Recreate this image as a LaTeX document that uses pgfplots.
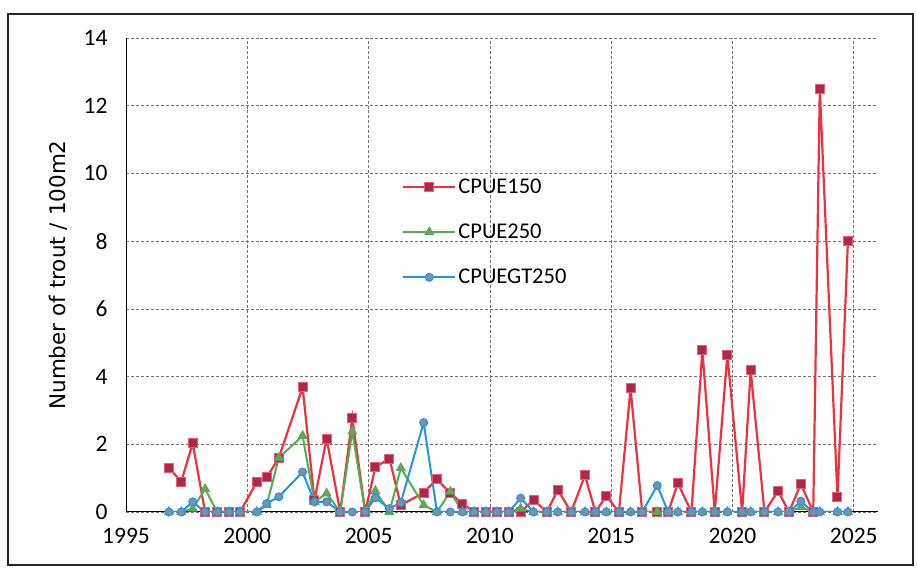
\documentclass[border=0pt]{standalone}
\usepackage{pgfplots}
\pgfplotsset{compat=1.18}
\usepackage{pgfplotstable}
\usepackage{fontspec}
\setmainfont{Carlito}
\newfontfamily\dejavu{DejaVu Sans}
\definecolor{redline}{RGB}{240,48,60}
\definecolor{redfill}{RGB}{176,40,72}
\definecolor{rededge}{RGB}{236,90,120}
\definecolor{greenline}{RGB}{80,176,80}
\definecolor{greenfill}{RGB}{110,160,100}
\definecolor{blueline}{RGB}{30,150,232}
\definecolor{bluefill}{RGB}{120,145,165}
\pgfplotstableread{
x r g b
1996.77 1.30 0 0
1997.28 0.90 0 0
1997.75 2.03 0.10 0.30
1998.26 0 0.68 0
1998.76 0 0 0
1999.24 0 0 0
1999.70 0 0 0
2000.39 0.88 0 0
2000.80 1.02 0.20 0.25
2001.30 1.60 1.60 0.45
2002.28 3.68 2.25 1.18
2002.77 0.35 0.30 0.30
2003.27 2.17 0.55 0.30
2003.83 0 0 0
2004.33 2.78 2.38 0
2004.86 0 0 0
2005.28 1.32 0.62 0.42
2005.86 1.58 0 0.10
2006.33 0.20 1.30 0.28
2007.27 0.57 0.20 2.64
2007.82 0.97 0 0
2008.37 0.55 0.60 0
2008.87 0.25 0 0
2009.35 0 0 0
2009.85 0 0 0
2010.30 0 0 0
2010.78 0 0 0
2011.27 0 0.10 0.41
2011.80 0.36 0 0
2012.35 0 0 0
2012.80 0.65 0 0
2013.35 0 0 0
2013.92 1.08 0 0
2014.35 0 0 0
2014.80 0.47 0 0
2015.32 0 0 0
2015.80 3.65 0 0
2016.28 0 0 0
2016.90 0 0 0.78
2017.35 0 0 0
2017.75 0.85 0 0
2018.31 0 0 0
2018.76 4.78 0 0
2019.27 0 0 0
2019.79 4.65 0 0
2020.40 0 0 0
2020.75 4.18 0 0
2021.32 0 0 0
2021.88 0.62 0 0
2022.33 0 0 0
2022.82 0.83 0.15 0.32
2023.33 0 0 0
2023.60 12.50 0 0
2024.33 0.43 0 0
2024.76 8.00 0 0
}\data
\begin{document}
\begin{tikzpicture}
\useasboundingbox (0bp,0bp) rectangle (917bp,569bp);
\draw[black!85, line width=1.2bp] (8bp,4bp) rectangle (913bp,555bp);
\begin{axis}[
  at={(126bp,57bp)}, anchor=south west,
  scale only axis, width=752bp, height=474bp,
  xmin=1995, xmax=2026, ymin=0, ymax=14,
  xtick={1995,2000,...,2025}, ytick={0,2,...,14},
  axis x line*=bottom, axis y line*=left,
  axis line style={black, line width=1bp, -},
  grid=major,
  major grid style={densely dashed, black!55, line width=0.6bp},
  major tick length=0pt,
  tick label style={font=\fontsize{23.5bp}{27bp}\selectfont, black},
  /pgf/number format/assume math mode=true,
  x tick label style={/pgf/number format/1000 sep={}, yshift=-13bp},
  y tick label style={xshift=-15bp},
  ylabel={\dejavu Number of trout / 100m2},
  ylabel style={at={(axis description cs:-0.0904,0.5)}, anchor=center, font=\fontsize{21.5bp}{25bp}\selectfont},
  legend style={draw=none, fill=none, at={(axis description cs:0.367,0.707)}, anchor=north west,
    row sep=25bp, font=\fontsize{22.5bp}{26bp}\selectfont, inner sep=0pt},
  legend cell align=left,
  legend image code/.code={\draw[mark repeat=2,mark phase=2] plot coordinates {(0bp,0bp)(26bp,0bp)(52bp,0bp)};},
]
\addplot[redline, line width=2.2bp, mark=square*, mark size=4.5bp,
  mark options={solid, fill=redfill, draw=rededge, line width=1bp}] table[x=x,y=r] {\data};
\addlegendentry{CPUE150}
\addplot[greenline, line width=2bp, mark=triangle*, mark size=5bp,
  mark options={solid, fill=greenfill, draw=greenline, line width=1bp}] table[x=x,y=g] {\data};
\addlegendentry{CPUE250}
\addplot[blueline, line width=2bp, mark=*, mark size=4bp,
  mark options={solid, fill=bluefill, draw=blueline, line width=1bp}] table[x=x,y=b] {\data};
\addlegendentry{CPUEGT250}
\end{axis}
\end{tikzpicture}
\end{document}
